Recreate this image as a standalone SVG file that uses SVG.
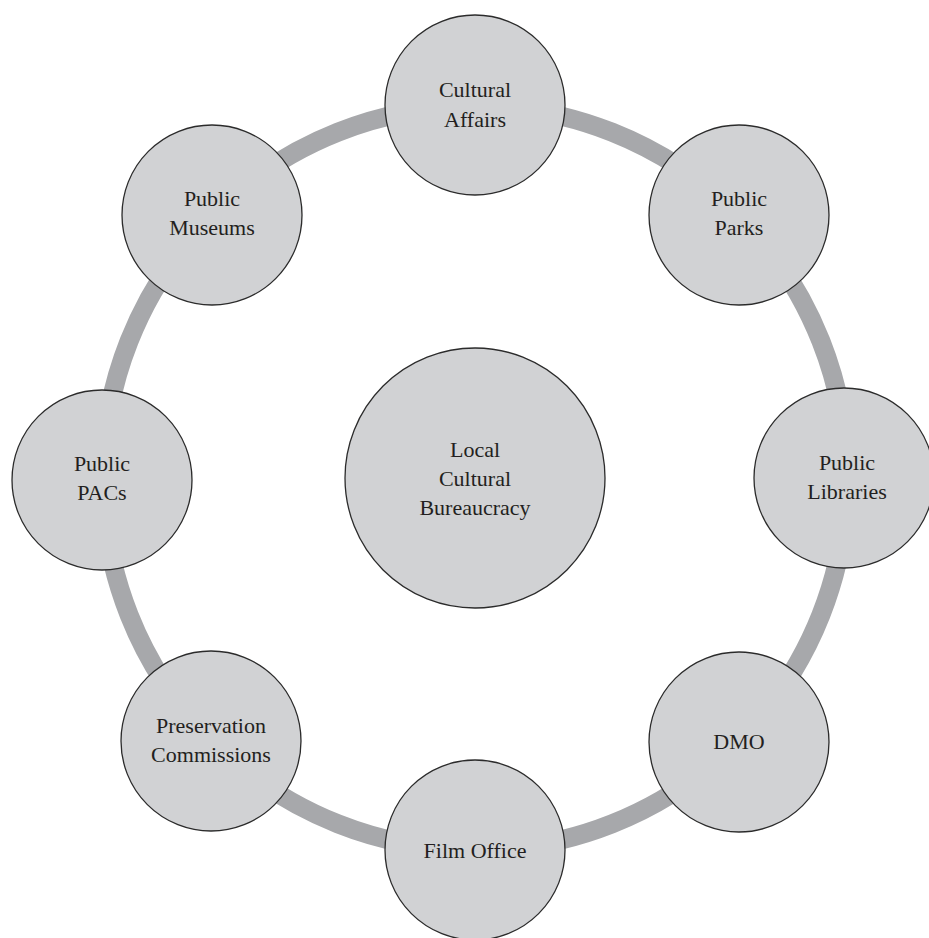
<svg xmlns="http://www.w3.org/2000/svg" width="929" height="938" viewBox="0 0 929 938">
<style>
.node{fill:#d1d2d4;stroke:#2b2b2b;stroke-width:1.3}
.ring{fill:none;stroke:#a7a8ab;stroke-width:19}
text{font-family:"Liberation Serif","Times New Roman",serif;font-size:22px;fill:#231f20;text-anchor:middle}
</style>
<rect width="929" height="938" fill="#ffffff"/>
<g id="connectors">
<circle class="ring" cx="475" cy="478" r="372"/>
</g>
<g id="center">
<circle class="node" cx="475" cy="478" r="130"/>
<text x="475" y="457">Local</text>
<text x="475" y="486">Cultural</text>
<text x="475" y="515">Bureaucracy</text>
</g>
<g id="cultural-affairs">
<circle class="node" cx="475" cy="105" r="90"/>
<text x="475" y="97">Cultural</text>
<text x="475" y="127">Affairs</text>
</g>
<g id="public-parks">
<circle class="node" cx="739" cy="215" r="90"/>
<text x="739" y="206">Public</text>
<text x="739" y="235">Parks</text>
</g>
<g id="public-libraries">
<circle class="node" cx="844" cy="478" r="90"/>
<text x="847" y="470">Public</text>
<text x="847" y="499">Libraries</text>
</g>
<g id="dmo">
<circle class="node" cx="739" cy="742" r="90"/>
<text x="739" y="749">DMO</text>
</g>
<g id="film-office">
<circle class="node" cx="475" cy="850" r="90"/>
<text x="475" y="858">Film Office</text>
</g>
<g id="preservation-commissions">
<circle class="node" cx="211" cy="741" r="90"/>
<text x="211" y="733">Preservation</text>
<text x="211" y="762">Commissions</text>
</g>
<g id="public-pacs">
<circle class="node" cx="102" cy="480" r="90"/>
<text x="102" y="471">Public</text>
<text x="102" y="500">PACs</text>
</g>
<g id="public-museums">
<circle class="node" cx="212" cy="215" r="90"/>
<text x="212" y="206">Public</text>
<text x="212" y="235">Museums</text>
</g>
</svg>
